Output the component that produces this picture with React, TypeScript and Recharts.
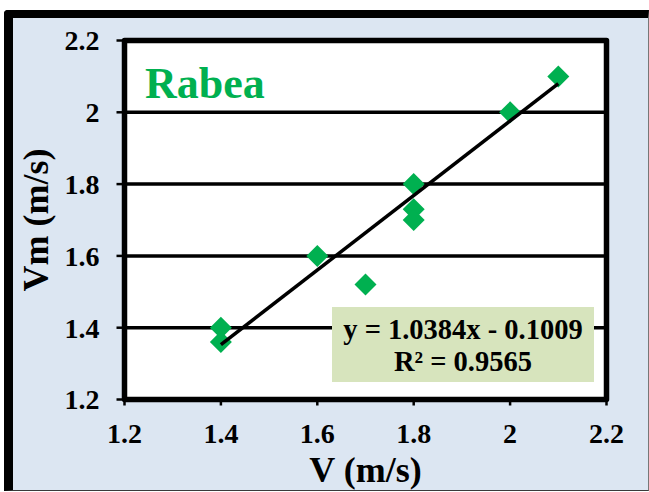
import React from 'react';
import { ScatterChart, Scatter, XAxis, YAxis, CartesianGrid, ReferenceArea, Label } from 'recharts';

// Measured velocity V against modelled velocity Vm (m/s)
const vObserved = [1.4, 1.4, 1.6, 1.7, 1.8, 1.8, 1.8, 2.0, 2.1];
const vModel = [1.4, 1.36, 1.6, 1.52, 1.8, 1.73, 1.7, 2.0, 2.1];

// Linear fit reported on the chart
const slope = 1.0384;
const intercept = -0.1009;
const rSquared = 0.9565;
const fitRange = [1.4, 2.1];

const xTicks = [1.2, 1.4, 1.6, 1.8, 2.0, 2.2];
const yTicks = [1.2, 1.4, 1.6, 1.8, 2.0, 2.2];
const axisDomain: [number, number] = [1.2, 2.2];

const seriesName = 'Rabea';

const points = vObserved.map((v, i) => ({ v, vm: vModel[i] }));
const fitPoints = fitRange.map((v) => ({ v, vm: slope * v + intercept }));

const SERIF = "'Liberation Serif', 'Times New Roman', serif";
const GREEN = '#00b050';

const Diamond = (props: any) => {
  const { cx, cy } = props;
  const r = 11;
  return (
    <polygon
      points={`${cx},${cy - r} ${cx + r},${cy} ${cx},${cy + r} ${cx - r},${cy}`}
      fill={GREEN}
    />
  );
};

const NoMarker = () => <g />;

const tickStyle = { fontFamily: SERIF, fontWeight: 700, fontSize: 28, fill: '#000' };

const equation = `y = ${slope.toFixed(4)}x ${intercept < 0 ? '-' : '+'} ${Math.abs(intercept).toFixed(4)}`;

export default function App() {
  return (
    <div style={{ position: 'absolute', left: 0, top: 0, width: 649, height: 492, background: '#fff', overflow: 'hidden' }}>
      <div
        style={{
          position: 'absolute',
          left: 4,
          top: 10,
          width: 645,
          height: 481,
          boxSizing: 'border-box',
          background: '#dce6f2',
          borderTop: '8px solid #000',
          borderLeft: '9px solid #000',
          borderBottom: '1px solid #3a3a3a',
          borderRight: '1px solid #777',
          borderTopLeftRadius: 4,
        }}
      />
      <div style={{ position: 'absolute', left: 0, top: 0 }}>
        <ScatterChart width={649} height={492} margin={{ top: 40.5, right: 42.5, bottom: 0, left: 0 }}>
          <CartesianGrid horizontal vertical={false} stroke="#000" strokeWidth={3.5} fill="#fff" fillOpacity={1} />
          <XAxis
            type="number"
            dataKey="v"
            domain={axisDomain}
            ticks={xTicks}
            interval={0}
            height={92.5}
            axisLine={false}
            tickLine={{ stroke: '#000', strokeWidth: 2.5 }}
            tickSize={6}
            tickMargin={18}
            tick={tickStyle}
            tickFormatter={(t: number) => String(t)}
          >
            <Label
              content={(p: any) => {
                const vb = p.viewBox;
                return (
                  <text
                    x={vb.x + vb.width / 2}
                    y={vb.y + 82}
                    textAnchor="middle"
                    fontFamily={SERIF}
                    fontWeight={700}
                    fontSize={36}
                    fill="#000"
                  >
                    V (m/s)
                  </text>
                );
              }}
            />
          </XAxis>
          <YAxis
            type="number"
            dataKey="vm"
            domain={axisDomain}
            ticks={yTicks}
            interval={0}
            width={124.5}
            axisLine={false}
            tickLine={{ stroke: '#000', strokeWidth: 2.5 }}
            tickSize={8}
            tickMargin={17}
            tick={tickStyle}
            tickFormatter={(t: number) => String(t)}
          >
            <Label
              content={(p: any) => {
                const vb = p.viewBox;
                const cx = vb.x + 35.5;
                const cy = vb.y + vb.height / 2;
                return (
                  <text
                    x={cx}
                    y={cy}
                    transform={`rotate(-90 ${cx} ${cy})`}
                    textAnchor="middle"
                    dominantBaseline="central"
                    fontFamily={SERIF}
                    fontWeight={700}
                    fontSize={36}
                    fill="#000"
                  >
                    Vm (m/s)
                  </text>
                );
              }}
            />
          </YAxis>
          <ReferenceArea
            x1={axisDomain[0]}
            x2={axisDomain[1]}
            y1={axisDomain[0]}
            y2={axisDomain[1]}
            fill="none"
            stroke="#000"
            strokeWidth={5.5}
            strokeLinejoin="round"
          />
          <Scatter data={points} shape={<Diamond />} isAnimationActive={false} />
          <Scatter
            data={fitPoints}
            shape={<NoMarker />}
            line={{ stroke: '#000', strokeWidth: 3.5 }}
            isAnimationActive={false}
          />
        </ScatterChart>
      </div>
      <svg width={649} height={492} style={{ position: 'absolute', left: 0, top: 0, pointerEvents: 'none' }}>
        <text x={145} y={98} fontFamily={SERIF} fontWeight={700} fontSize={44} fill={GREEN}>
          {seriesName}
        </text>
        <rect x={332} y={307} width={262} height={75} fill="#d7e4bd" />
        <text x={463} y={339} textAnchor="middle" fontFamily={SERIF} fontWeight={700} fontSize={28.5} fill="#000">
          {equation}
        </text>
        <text x={463} y={371} textAnchor="middle" fontFamily={SERIF} fontWeight={700} fontSize={28.5} fill="#000">
          {`R² = ${rSquared.toFixed(4)}`}
        </text>
      </svg>
    </div>
  );
}
